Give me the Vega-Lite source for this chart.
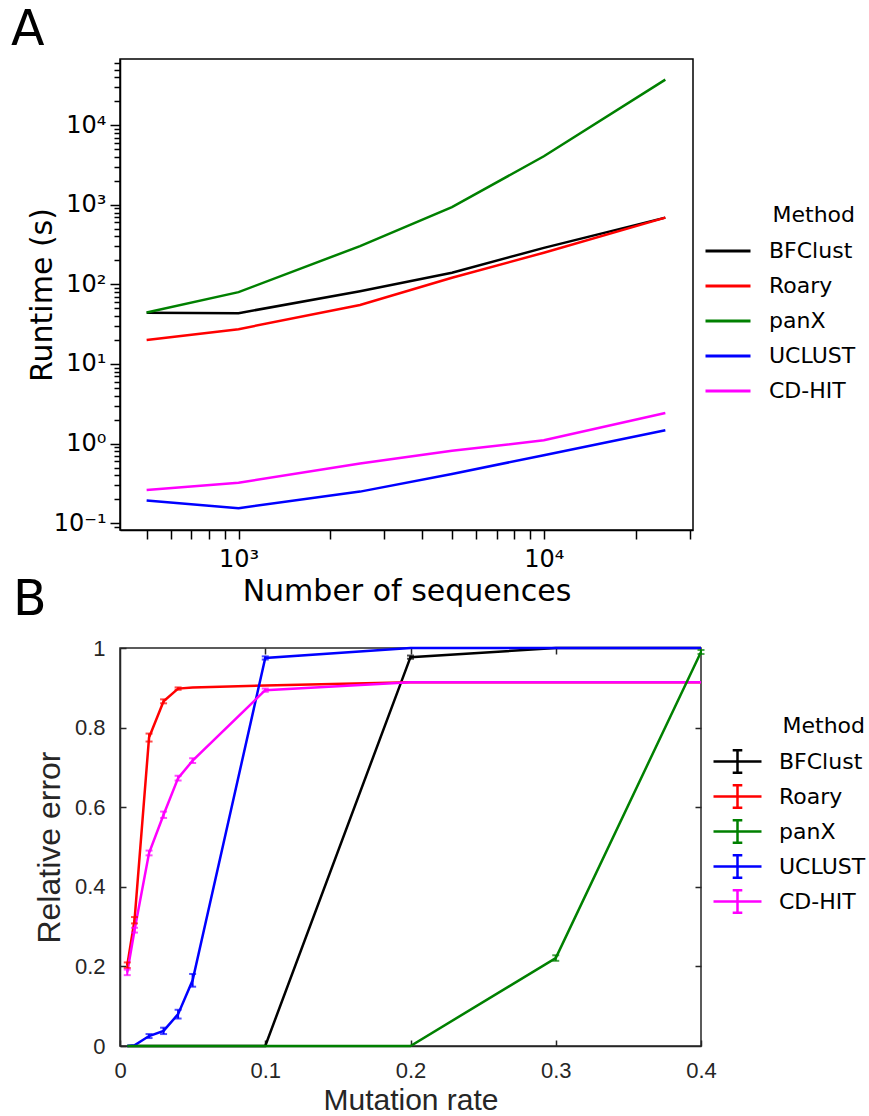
{
  "$schema": "https://vega.github.io/schema/vega-lite/v6.json",
  "background": "white",
  "autosize": {"type": "pad"},
  "padding": {"left": 10, "top": 5, "right": 2, "bottom": 2},
  "bounds": "flush",
  "spacing": 118,
  "config": {
    "view": {"stroke": null},
    "axis": {"grid": false, "labelOverlap": false, "labelFlush": false}
  },
  "resolve": {"scale": {"color": "independent"}, "legend": {"color": "independent"}},
  "vconcat": [
    {
      "width": 573,
      "height": 471,
      "view": {"stroke": "black", "strokeWidth": 1.5},
      "title": {"text": "A", "anchor": "start", "frame": "group", "dx": -109, "fontSize": 49, "font": "DejaVu Sans", "fontWeight": "normal", "color": "black", "offset": -4},
      "data": {"values": [
        {"n": 500, "method": "BFClust", "t": 44},
        {"n": 1000, "method": "BFClust", "t": 43.5},
        {"n": 2500, "method": "BFClust", "t": 82},
        {"n": 5000, "method": "BFClust", "t": 140},
        {"n": 10000, "method": "BFClust", "t": 288},
        {"n": 25000, "method": "BFClust", "t": 690},
        {"n": 500, "method": "Roary", "t": 20},
        {"n": 1000, "method": "Roary", "t": 27.4},
        {"n": 2500, "method": "Roary", "t": 55},
        {"n": 5000, "method": "Roary", "t": 121},
        {"n": 10000, "method": "Roary", "t": 250},
        {"n": 25000, "method": "Roary", "t": 690},
        {"n": 500, "method": "UCLUST", "t": 0.192},
        {"n": 1000, "method": "UCLUST", "t": 0.154},
        {"n": 2500, "method": "UCLUST", "t": 0.249},
        {"n": 5000, "method": "UCLUST", "t": 0.414},
        {"n": 10000, "method": "UCLUST", "t": 0.715},
        {"n": 25000, "method": "UCLUST", "t": 1.47},
        {"n": 500, "method": "CD-HIT", "t": 0.261},
        {"n": 1000, "method": "CD-HIT", "t": 0.322},
        {"n": 2500, "method": "CD-HIT", "t": 0.562},
        {"n": 5000, "method": "CD-HIT", "t": 0.81},
        {"n": 10000, "method": "CD-HIT", "t": 1.1},
        {"n": 25000, "method": "CD-HIT", "t": 2.42},
        {"n": 500, "method": "panX", "t": 44.3},
        {"n": 1000, "method": "panX", "t": 80},
        {"n": 2500, "method": "panX", "t": 303},
        {"n": 5000, "method": "panX", "t": 935},
        {"n": 10000, "method": "panX", "t": 4080},
        {"n": 25000, "method": "panX", "t": 37400}
      ]},
      "mark": {"type": "line", "strokeWidth": 2.5},
      "encoding": {
        "x": {
          "field": "n", "type": "quantitative",
          "scale": {"type": "log", "domain": [409, 30800], "nice": false},
          "axis": {
            "title": "Number of sequences",
            "values": [500, 600, 700, 800, 900, 1000, 2000, 3000, 4000, 5000, 6000, 7000, 8000, 9000, 10000, 20000, 30000],
            "labelExpr": "datum.value == 1000 ? '10³' : datum.value == 10000 ? '10⁴' : ''",
            "tickSize": 9, "tickWidth": 1.5, "tickColor": "black",
            "domainColor": "black", "domainWidth": 1.5,
            "labelFont": "DejaVu Sans", "labelFontSize": 24, "labelColor": "black", "labelPadding": 8,
            "titleFont": "DejaVu Sans", "titleFontSize": 30, "titleFontWeight": "normal", "titleColor": "black", "titlePadding": 5
          }
        },
        "y": {
          "field": "t", "type": "quantitative",
          "scale": {"type": "log", "domain": [0.082, 68000], "nice": false},
          "axis": {
            "title": "Runtime (s)",
            "values": [0.09, 0.1, 0.2, 0.3, 0.4, 0.5, 0.6, 0.7, 0.8, 0.9, 1, 2, 3, 4, 5, 6, 7, 8, 9, 10, 20, 30, 40, 50, 60, 70, 80, 90, 100, 200, 300, 400, 500, 600, 700, 800, 900, 1000, 2000, 3000, 4000, 5000, 6000, 7000, 8000, 9000, 10000, 20000, 30000, 40000, 50000, 60000],
            "labelExpr": "datum.value == 0.1 ? '10⁻¹' : datum.value == 1 ? '10⁰' : datum.value == 10 ? '10¹' : datum.value == 100 ? '10²' : datum.value == 1000 ? '10³' : datum.value == 10000 ? '10⁴' : ''",
            "tickSize": {"condition": {"test": "indexof([0.1, 1, 10, 100, 1000, 10000], datum.value) >= 0", "value": 10}, "value": 6},
            "tickWidth": 1.5, "tickColor": "black",
            "domainColor": "black", "domainWidth": 1.5,
            "labelFont": "DejaVu Sans", "labelFontSize": 24, "labelColor": "black", "labelPadding": 4,
            "titleFont": "DejaVu Sans", "titleFontSize": 30, "titleFontWeight": "normal", "titleColor": "black", "titlePadding": -4
          }
        },
        "color": {
          "field": "method", "type": "nominal",
          "scale": {"domain": ["BFClust", "Roary", "panX", "UCLUST", "CD-HIT"], "range": ["#000000", "#ff0000", "#008000", "#0000ff", "#ff00ff"]},
          "legend": {
            "title": "Method", "orient": "none", "legendX": 584, "legendY": 146,
            "symbolType": "stroke", "symbolSize": 2025, "symbolStrokeWidth": 3,
            "labelFont": "DejaVu Sans", "labelFontSize": 22, "labelColor": "black", "labelOffset": 17,
            "titleFont": "DejaVu Sans", "titleFontSize": 22, "titleFontWeight": "normal", "titleColor": "black",
            "titleAnchor": "end", "titlePadding": 0, "rowPadding": 0, "padding": 0
          }
        }
      }
    },
    {
      "width": 581,
      "height": 398,
      "view": {"stroke": "#262626", "strokeWidth": 1.5},
      "title": {"text": "B", "anchor": "start", "frame": "group", "dx": -107, "fontSize": 49, "font": "DejaVu Sans", "fontWeight": "normal", "color": "black", "offset": 12},
      "data": {"values": [
        {"rate": 0.005, "method": "BFClust", "v": 0, "lo": 0, "hi": 0},
        {"rate": 0.01, "method": "BFClust", "v": 0, "lo": 0, "hi": 0},
        {"rate": 0.02, "method": "BFClust", "v": 0, "lo": 0, "hi": 0},
        {"rate": 0.03, "method": "BFClust", "v": 0, "lo": 0, "hi": 0},
        {"rate": 0.04, "method": "BFClust", "v": 0, "lo": 0, "hi": 0},
        {"rate": 0.05, "method": "BFClust", "v": 0, "lo": 0, "hi": 0},
        {"rate": 0.1, "method": "BFClust", "v": 0, "lo": 0, "hi": 0},
        {"rate": 0.2, "method": "BFClust", "v": 0.977, "lo": 0.973, "hi": 0.981},
        {"rate": 0.3, "method": "BFClust", "v": 1, "lo": 1, "hi": 1},
        {"rate": 0.4, "method": "BFClust", "v": 1, "lo": 1, "hi": 1},
        {"rate": 0.005, "method": "Roary", "v": 0.203, "lo": 0.196, "hi": 0.21},
        {"rate": 0.01, "method": "Roary", "v": 0.316, "lo": 0.308, "hi": 0.324},
        {"rate": 0.02, "method": "Roary", "v": 0.775, "lo": 0.765, "hi": 0.785},
        {"rate": 0.03, "method": "Roary", "v": 0.866, "lo": 0.861, "hi": 0.871},
        {"rate": 0.04, "method": "Roary", "v": 0.898, "lo": 0.895, "hi": 0.901},
        {"rate": 0.05, "method": "Roary", "v": 0.901, "lo": 0.901, "hi": 0.901},
        {"rate": 0.1, "method": "Roary", "v": 0.906, "lo": 0.906, "hi": 0.906},
        {"rate": 0.2, "method": "Roary", "v": 0.914, "lo": 0.914, "hi": 0.914},
        {"rate": 0.3, "method": "Roary", "v": 0.914, "lo": 0.914, "hi": 0.914},
        {"rate": 0.4, "method": "Roary", "v": 0.914, "lo": 0.914, "hi": 0.914},
        {"rate": 0.005, "method": "UCLUST", "v": 0, "lo": 0, "hi": 0},
        {"rate": 0.01, "method": "UCLUST", "v": 0.002, "lo": 0.002, "hi": 0.002},
        {"rate": 0.02, "method": "UCLUST", "v": 0.025, "lo": 0.02, "hi": 0.03},
        {"rate": 0.03, "method": "UCLUST", "v": 0.038, "lo": 0.03, "hi": 0.046},
        {"rate": 0.04, "method": "UCLUST", "v": 0.08, "lo": 0.069, "hi": 0.091},
        {"rate": 0.05, "method": "UCLUST", "v": 0.165, "lo": 0.149, "hi": 0.181},
        {"rate": 0.1, "method": "UCLUST", "v": 0.975, "lo": 0.971, "hi": 0.979},
        {"rate": 0.2, "method": "UCLUST", "v": 1, "lo": 1, "hi": 1},
        {"rate": 0.3, "method": "UCLUST", "v": 1, "lo": 1, "hi": 1},
        {"rate": 0.4, "method": "UCLUST", "v": 1, "lo": 1, "hi": 1},
        {"rate": 0.005, "method": "CD-HIT", "v": 0.185, "lo": 0.178, "hi": 0.192},
        {"rate": 0.01, "method": "CD-HIT", "v": 0.291, "lo": 0.285, "hi": 0.297},
        {"rate": 0.02, "method": "CD-HIT", "v": 0.485, "lo": 0.479, "hi": 0.491},
        {"rate": 0.03, "method": "CD-HIT", "v": 0.581, "lo": 0.573, "hi": 0.589},
        {"rate": 0.04, "method": "CD-HIT", "v": 0.673, "lo": 0.667, "hi": 0.679},
        {"rate": 0.05, "method": "CD-HIT", "v": 0.717, "lo": 0.711, "hi": 0.723},
        {"rate": 0.1, "method": "CD-HIT", "v": 0.894, "lo": 0.89, "hi": 0.898},
        {"rate": 0.2, "method": "CD-HIT", "v": 0.914, "lo": 0.914, "hi": 0.914},
        {"rate": 0.3, "method": "CD-HIT", "v": 0.914, "lo": 0.914, "hi": 0.914},
        {"rate": 0.4, "method": "CD-HIT", "v": 0.914, "lo": 0.914, "hi": 0.914},
        {"rate": 0.005, "method": "panX", "v": 0, "lo": 0, "hi": 0},
        {"rate": 0.01, "method": "panX", "v": 0, "lo": 0, "hi": 0},
        {"rate": 0.02, "method": "panX", "v": 0, "lo": 0, "hi": 0},
        {"rate": 0.03, "method": "panX", "v": 0, "lo": 0, "hi": 0},
        {"rate": 0.04, "method": "panX", "v": 0, "lo": 0, "hi": 0},
        {"rate": 0.05, "method": "panX", "v": 0, "lo": 0, "hi": 0},
        {"rate": 0.1, "method": "panX", "v": 0, "lo": 0, "hi": 0},
        {"rate": 0.2, "method": "panX", "v": 0, "lo": 0, "hi": 0},
        {"rate": 0.3, "method": "panX", "v": 0.221, "lo": 0.214, "hi": 0.228},
        {"rate": 0.4, "method": "panX", "v": 0.99, "lo": 0.985, "hi": 0.995}
      ]},
      "layer": [
        {
          "mark": {"type": "line", "strokeWidth": 2.5},
          "encoding": {
            "x": {
              "field": "rate", "type": "quantitative",
              "scale": {"domain": [0, 0.4], "nice": false, "zero": false},
              "axis": {
                "title": "Mutation rate", "orient": "bottom",
                "values": [0, 0.1, 0.2, 0.3, 0.4], "format": "~g",
                "tickSize": -6, "tickWidth": 1.5, "tickColor": "#262626",
                "domainColor": "#262626", "domainWidth": 1.5,
                "labelFont": "Liberation Sans", "labelFontSize": 22, "labelColor": "#262626", "labelPadding": 20,
                "titleFont": "Liberation Sans", "titleFontSize": 30, "titleFontWeight": "normal", "titleColor": "#262626", "titlePadding": 4
              }
            },
            "y": {
              "field": "v", "type": "quantitative",
              "scale": {"domain": [0, 1], "nice": false},
              "axis": {
                "title": "Relative error", "orient": "left",
                "values": [0, 0.2, 0.4, 0.6, 0.8, 1], "format": "~g",
                "tickSize": -6, "tickWidth": 1.5, "tickColor": "#262626",
                "domainColor": "#262626", "domainWidth": 1.5,
                "labelFont": "Liberation Sans", "labelFontSize": 22, "labelColor": "#262626", "labelPadding": 21,
                "titleFont": "Liberation Sans", "titleFontSize": 32, "titleFontWeight": "normal", "titleColor": "#262626", "titlePadding": 8
              }
            },
            "color": {
              "field": "method", "type": "nominal",
              "scale": {"domain": ["BFClust", "Roary", "panX", "UCLUST", "CD-HIT"], "range": ["#000000", "#ff0000", "#008000", "#0000ff", "#ff00ff"]},
              "legend": {
                "title": "Method", "orient": "none", "legendX": 600, "legendY": 68,
                "symbolType": "M-1.5,0H1.5M0,-0.7V0.7M-0.3,-0.7H0.3M-0.3,0.7H0.3", "symbolSize": 1024, "symbolStrokeWidth": 2.5,
                "labelFont": "DejaVu Sans", "labelFontSize": 22, "labelColor": "black", "labelOffset": 24,
                "titleFont": "DejaVu Sans", "titleFontSize": 22, "titleFontWeight": "normal", "titleColor": "black",
                "titleAnchor": "end", "titlePadding": 6, "rowPadding": 1, "padding": 0
              }
            }
          }
        },
        {
          "transform": [{"filter": "datum.hi > datum.lo"}],
          "mark": {"type": "errorbar", "ticks": {"size": 7, "thickness": 2}, "thickness": 2},
          "encoding": {
            "x": {
              "field": "rate", "type": "quantitative",
              "axis": {"orient": "top", "title": null, "labels": false, "domain": false, "values": [0.1, 0.2, 0.3], "tickSize": -6, "tickWidth": 1.5, "tickColor": "#262626"}
            },
            "y": {
              "field": "lo", "type": "quantitative",
              "axis": {"orient": "right", "title": null, "labels": false, "domain": false, "values": [0.2, 0.4, 0.6, 0.8], "tickSize": -6, "tickWidth": 1.5, "tickColor": "#262626"}
            },
            "y2": {"field": "hi"},
            "color": {"field": "method", "type": "nominal", "legend": null}
          }
        }
      ],
      "resolve": {"axis": {"x": "independent", "y": "independent"}}
    }
  ]
}
